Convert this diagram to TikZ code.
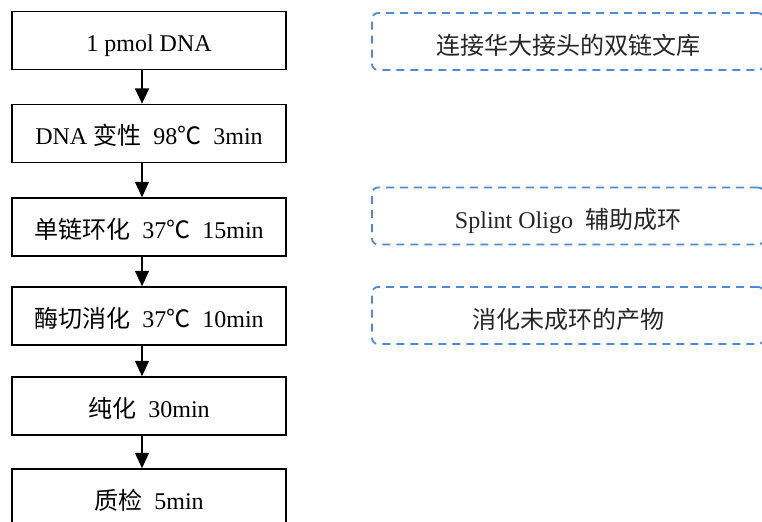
\documentclass[tikz,border=0pt]{standalone}
\usepackage{fontspec}
\setmainfont{Liberation Serif}
\newfontfamily\cjk{Noto Sans CJK SC}
\usetikzlibrary{arrows.meta}
\definecolor{dashblue}{HTML}{5289D6}
\definecolor{softtext}{HTML}{262626}
\begin{document}
\begin{tikzpicture}[x=0.75pt,y=-0.75pt,
  stepbox/.style={draw=black,line width=1.2pt,minimum width=205.5pt,minimum height=43.5pt,inner sep=0pt,font=\fontsize{18pt}{21pt}\selectfont,text height=18pt,text depth=1.2pt},
  notebox/.style={draw=dashblue,line width=1.35pt,dash pattern=on 6pt off 4.5pt,rounded corners=4.5pt,minimum width=294pt,minimum height=42.75pt,inner sep=0pt,font=\fontsize{18pt}{21pt}\selectfont,text=softtext,text height=20pt,text depth=1pt},
  arr/.style={line width=1.1pt,-{Triangle[length=11.5pt,width=10.5pt]}}]
\useasboundingbox (0,0) rectangle (762,521);
\clip (0,0) rectangle (762,521);
\fill[white] (0,0) rectangle (762,521);
\node[stepbox] (b1) at (149,40.5) {1 pmol DNA};
\node[stepbox] (b2) at (149,133.5) {DNA {\cjk 变性}\ \ 98{\cjk ℃}\ \ 3min};
\node[stepbox] (b3) at (149,227) {{\cjk 单链环化}\ \ 37{\cjk ℃}\ \ 15min};
\node[stepbox] (b4) at (149,316) {{\cjk 酶切消化}\ \ 37{\cjk ℃}\ \ 10min};
\node[stepbox] (b5) at (149,406) {{\cjk 纯化}\ \ 30min};
\node[stepbox] (b6) at (149,498) {{\cjk 质检}\ \ 5min};
\foreach \a/\b in {b1/b2,b2/b3,b3/b4,b4/b5,b5/b6}
  \draw[arr] ([xshift=-5.25pt]\a.south) -- ([xshift=-5.25pt]\b.north);
\node[notebox] (n1) at (568,41.5) {{\cjk 连接华大接头的双链文库}};
\node[notebox] (n2) at (568,216) {Splint Oligo\ \ {\cjk 辅助成环}};
\node[notebox] (n3) at (568,315.5) {{\cjk 消化未成环的产物}};
\end{tikzpicture}
\end{document}
